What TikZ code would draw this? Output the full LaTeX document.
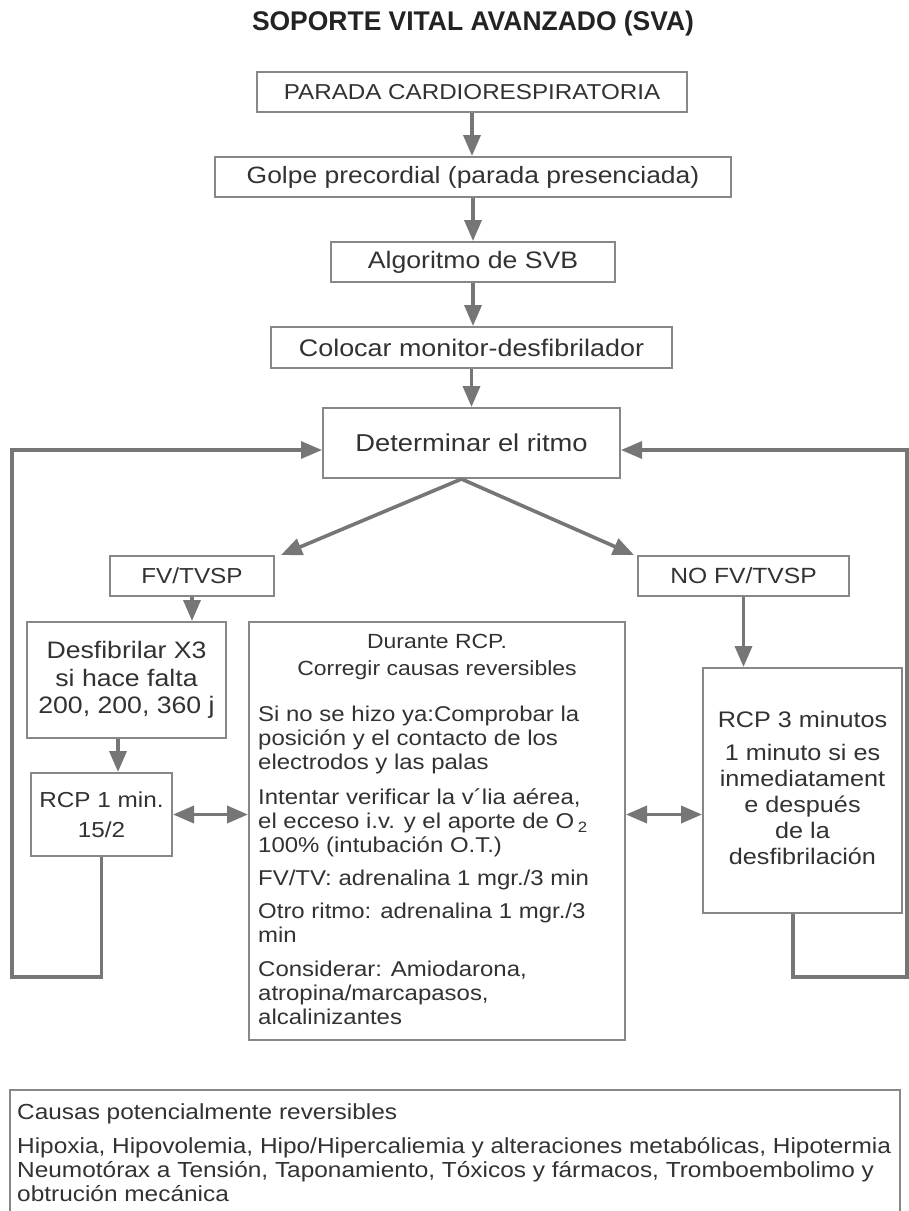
\documentclass[tikz,border=0pt]{standalone}
\usepackage{fontspec}
\setmainfont{Liberation Sans}[FakeStretch=1.12]
\newfontfamily\titlefont{Liberation Sans}[FakeStretch=0.98]
\usetikzlibrary{arrows.meta,calc}
\definecolor{linegray}{RGB}{118,118,118}
\definecolor{boxgray}{RGB}{135,135,135}
\definecolor{txt}{RGB}{50,50,50}
\definecolor{titlec}{RGB}{35,35,35}
\newcommand{\fsz}[2]{\fontsize{#1}{#2}\selectfont}
\begin{document}
\begin{tikzpicture}[x=1pt,y=-1pt,
  box/.style={draw=boxgray, line width=2pt, inner sep=0pt, text=txt, align=center},
  txtnode/.style={text=txt, inner sep=0pt},
  tip/.style={},
  conn/.style={draw=linegray, line width=3.6pt, -{Triangle[length=21pt,width=17pt]}},
  dconn/.style={draw=linegray, line width=3.6pt, {Triangle[length=21pt,width=17pt]}-{Triangle[length=21pt,width=17pt]}},
  loopline/.style={draw=linegray, line width=3.2pt, line join=miter, -{Triangle[length=21pt,width=17pt]}},
]
\fill[white] (0,0) rectangle (909,1211);
\useasboundingbox (0,0) rectangle (909,1211);

\node[text=titlec, font=\titlefont\bfseries\fsz{27}{30}] (title) at (473,24) {SOPORTE VITAL AVANZADO (SVA)};

\node[box, minimum width=430pt, minimum height=40pt, font=\fsz{21.6}{24}] (parada) at (472,92) {PARADA CARDIORESPIRATORIA};
\node[box, minimum width=516pt, minimum height=40pt, font=\fsz{23.6}{26}] (golpe) at (473,177) {Golpe precordial (parada presenciada)};
\node[box, minimum width=284pt, minimum height=40pt, font=\fsz{23.8}{26}] (algo) at (473,262) {Algoritmo de SVB};
\node[box, minimum width=401pt, minimum height=41pt, font=\fsz{24}{26}] (coloc) at (471.5,347.5) {Colocar monitor-desfibrilador};
\node[box, minimum width=297pt, minimum height=70pt, font=\fsz{24.4}{26}] (ritmo) at (471.5,443) {Determinar el ritmo};
\node[box, minimum width=164pt, minimum height=40pt, font=\fsz{21.7}{24}] (fv) at (192,576) {FV/TVSP};
\node[box, minimum width=211pt, minimum height=40pt, font=\fsz{22}{24}] (nofv) at (743.5,576) {NO FV/TVSP};
\node[box, minimum width=199pt, minimum height=116pt, font=\fsz{23.8}{27.5}] (desf) at (126.5,680) {Desfibrilar X3\\si hace falta\\200, 200, 360 j};
\node[box, minimum width=141pt, minimum height=83pt, font=\fsz{21.7}{30}] (rcp1) at (101.5,814.5) {RCP 1 min.\\15/2};

\node[box, minimum width=376pt, minimum height=418pt] (durante) at (437,831) {};
\node[txtnode, align=center, font=\fsz{20.5}{27}] (durhead) at (437,657) {Durante RCP.\\Corregir causas reversibles};
\node[txtnode, align=left, font=\fsz{21.4}{24}, anchor=north west] (durbody) at (258,706) {Si no se hizo ya:Comprobar la\\posición y el contacto de los\\electrodos y las palas\\[11pt]Intentar verificar la v´lia aérea,\\el ecceso i.v. y el aporte de O\,\textsubscript{2}\\100\% (intubación O.T.)\\[9pt]FV/TV: adrenalina 1 mgr./3 min\\[9pt]Otro ritmo: adrenalina 1 mgr./3\\min\\[10pt]Considerar: Amiodarona,\\atropina/marcapasos,\\alcalinizantes};

\node[box, minimum width=199pt, minimum height=245pt] (rcp3) at (802.5,790.5) {};
\node[txtnode, align=center, font=\fsz{22.5}{26}] (rcp3t) at (802.5,787.5) {RCP 3 minutos\\[7pt]1 minuto si es\\inmediatament\\e después\\de la\\desfibrilación};

\node[box, minimum width=890pt, minimum height=125pt] (causas) at (455,1152.5) {};
\node[txtnode, align=left, font=\fsz{21.8}{24}, anchor=north west] (causast) at (17,1103) {Causas potencialmente reversibles\\[10pt]Hipoxia, Hipovolemia, Hipo/Hipercaliemia y alteraciones metabólicas, Hipotermia\\Neumotórax a Tensión, Taponamiento, Tóxicos y fármacos, Tromboembolimo y\\obtrución mecánica};

% main chain
\draw[conn] (parada.south) -- (parada.south |- golpe.north);
\draw[conn] (golpe.south) -- (golpe.south |- algo.north);
\draw[conn] (algo.south) -- (algo.south |- coloc.north);
\draw[conn] (coloc.south) -- (coloc.south |- ritmo.north);

% split
\coordinate (split) at ($(ritmo.south)+(-10,0)$);
\draw[conn] (split) -- ($(fv.north east)+(6,0)$);
\draw[conn] (split) -- ($(nofv.north west)+(-3,0)$);

\draw[conn] (fv.south) -- (fv.south |- desf.north);
\coordinate (d1) at ($(desf.south)+(-8.5,0)$);
\draw[conn] (d1) -- (d1 |- rcp1.north);
\draw[conn] (nofv.south) -- (nofv.south |- rcp3.north);

\draw[dconn] (rcp1.east) -- (rcp1.east -| durante.west);
\draw[dconn] (durante.east |- rcp1.east) -- (rcp3.west |- rcp1.east);

% loops
\coordinate (lb) at (12,977);
\coordinate (rb) at (907,977);
\coordinate (rin) at ($(ritmo.west)+(0,7)$);
\coordinate (rin2) at ($(ritmo.east)+(0,7)$);
\coordinate (rout) at ($(rcp3.south)+(-9.5,0)$);
\draw[loopline] (rcp1.south) -- (rcp1.south |- lb) -- (lb) -- (lb |- rin) -- (rin);
\draw[loopline] (rout) -- (rout |- rb) -- (rb) -- (rb |- rin2) -- (rin2);
\end{tikzpicture}
\end{document}
